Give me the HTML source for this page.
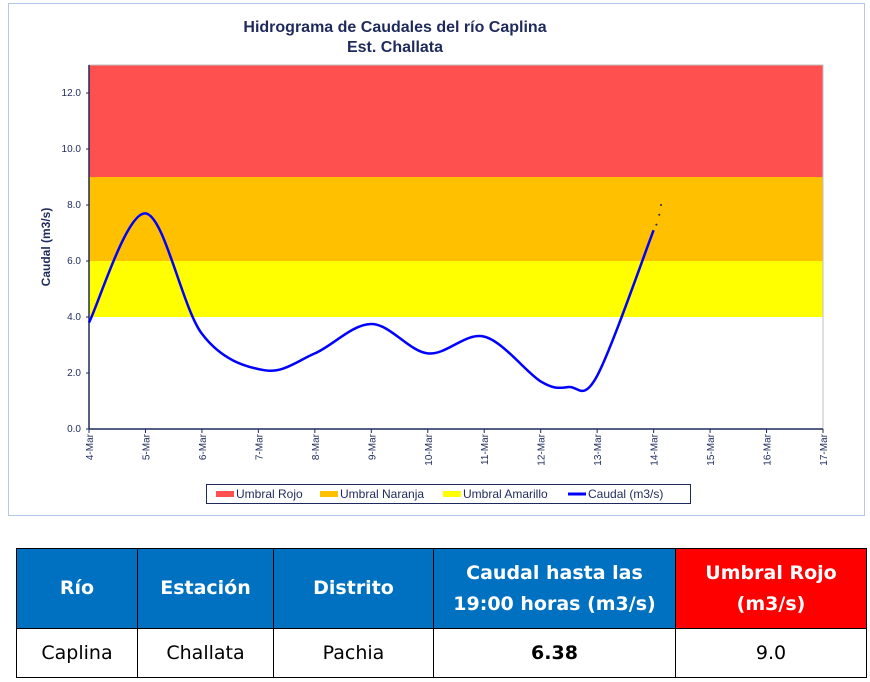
<!DOCTYPE html>
<html><head><meta charset="utf-8"><style>
body{margin:0;background:#fff;width:870px;height:682px;overflow:hidden;font-family:"Liberation Sans",sans-serif}
#chart{position:absolute;left:0;top:0}
table{position:absolute;left:16px;top:548px;border-collapse:collapse;font-family:"DejaVu Sans","Liberation Sans",sans-serif}
td{border:1.5px solid #000;text-align:center;font-size:19px;padding:0}
.h td{background:#0070C0;color:#fff;font-weight:bold;height:79px;line-height:31px}
.h td.red{background:#FF0000}
.d td{height:48px;color:#000}
</style></head><body>
<svg id="chart" width="870" height="530">
<rect x="8.5" y="3.5" width="856" height="512" fill="#fff" stroke="#B4C7E7"/>
<text x="395" y="32" text-anchor="middle" font-size="16" font-weight="bold" fill="#1F2A5C">Hidrograma de Caudales del río Caplina</text>
<text x="395" y="52" text-anchor="middle" font-size="16" font-weight="bold" fill="#1F2A5C">Est. Challata</text>
<g id="bands"></g><g id="yaxis"></g><g id="xaxis"></g><g id="series"></g>
<text transform="translate(50,247) rotate(-90)" text-anchor="middle" font-size="12" font-weight="bold" fill="#1F2A5C">Caudal (m3/s)</text>
<g>
<rect x="206.5" y="484.5" width="484" height="19" fill="#fff" stroke="#1F2A5C"/>
<rect x="216" y="491" width="18" height="6" fill="#FF5050"/><text x="236" y="498" font-size="12" fill="#1F2A5C">Umbral Rojo</text>
<rect x="320" y="491" width="18" height="6" fill="#FFC000"/><text x="340" y="498" font-size="12" fill="#1F2A5C">Umbral Naranja</text>
<rect x="443" y="491" width="18" height="6" fill="#FFFF00"/><text x="463" y="498" font-size="12" fill="#1F2A5C">Umbral Amarillo</text>
<line x1="568" y1="494" x2="586" y2="494" stroke="#0000FF" stroke-width="3"/><text x="588" y="498" font-size="12" fill="#1F2A5C">Caudal (m3/s)</text>
</g>
</svg>
<table>
<tr class="h"><td style="width:120px">Río</td><td style="width:135px">Estación</td><td style="width:159px">Distrito</td><td style="width:241px">Caudal hasta las<br>19:00 horas (m3/s)</td><td class="red" style="width:190px">Umbral Rojo<br>(m3/s)</td></tr>
<tr class="d"><td>Caplina</td><td>Challata</td><td>Pachia</td><td style="font-weight:bold">6.38</td><td>9.0</td></tr>
</table>
<script>
const dayLabels=["4-Mar","5-Mar","6-Mar","7-Mar","8-Mar","9-Mar","10-Mar","11-Mar","12-Mar","13-Mar","14-Mar","15-Mar","16-Mar","17-Mar"];
const yTicks=[0,2,4,6,8,10,12];
const bandLow=[9,6,4];
const bandHigh=[13,9,6];
const bandColors=["#FF5050","#FFC000","#FFFF00"];
const flowDays=[0,1,2,3.1,4,5,6,7,8,8.5,9,10];
const flowValues=[3.8,7.7,3.4,2.1,2.7,3.75,2.7,3.3,1.7,1.5,1.9,7.1];
const dotDays=[10.05,10.1,10.13];
const dotValues=[7.3,7.65,8.0];
const NS="http://www.w3.org/2000/svg";
const X0=89,X1=823,Y0=429,Y13=65;
const sx=d=>X0+d*(X1-X0)/13;
const sy=v=>Y0-v*(Y0-Y13)/13;
function mk(tag,attrs,parent){const e=document.createElementNS(NS,tag);for(const k in attrs)e.setAttribute(k,attrs[k]);parent.appendChild(e);return e;}
const bands=document.getElementById('bands');
bandLow.forEach((lo,i)=>{const r=mk('rect',{x:X0,y:sy(bandHigh[i]),width:X1-X0,height:sy(lo)-sy(bandHigh[i]),fill:bandColors[i]},bands);

});
mk('rect',{x:X0,y:sy(13),width:X1-X0,height:Y0-sy(13),fill:'none',stroke:'#BFBFBF'},bands);
const ya=document.getElementById('yaxis');
mk('line',{x1:X0,y1:Y13,x2:X0,y2:Y0,stroke:'#1F2A5C','stroke-width':1.5},ya);
yTicks.forEach(v=>{mk('line',{x1:X0-3,y1:sy(v),x2:X0,y2:sy(v),stroke:'#1F2A5C'},ya);
const t=mk('text',{x:X0-8,y:sy(v)+3,'text-anchor':'end','font-size':10,fill:'#1F2A5C'},ya);t.textContent=v.toFixed(1);

});
const xa=document.getElementById('xaxis');
mk('line',{x1:X0,y1:Y0,x2:X1,y2:Y0,stroke:'#1F2A5C','stroke-width':1.5},xa);
dayLabels.forEach((l,i)=>{const x=sx(i);mk('line',{x1:x,y1:Y0,x2:x,y2:Y0+4,stroke:'#1F2A5C'},xa);
const t=mk('text',{transform:`translate(${x+4},${Y0+5}) rotate(-90)`,'text-anchor':'end','font-size':10,fill:'#1F2A5C'},xa);t.textContent=l;

});
const pts=flowDays.map((d,i)=>[sx(d),sy(flowValues[i])]);
let p=`M${pts[0][0]},${pts[0][1]}`;
for(let i=0;i<pts.length-1;i++){const a=pts[i-1]||pts[i],b=pts[i],c=pts[i+1],e=pts[i+2]||c;
p+=` C${b[0]+(c[0]-a[0])/6},${b[1]+(c[1]-a[1])/6} ${c[0]-(e[0]-b[0])/6},${c[1]-(e[1]-b[1])/6} ${c[0]},${c[1]}`;}
const ser=document.getElementById('series');
const line=mk('path',{d:p,fill:'none',stroke:'#0000FF','stroke-width':2.5},ser);


dotDays.forEach((d,i)=>{const c=mk('circle',{cx:sx(d),cy:sy(dotValues[i]),r:1,fill:'#1F2A5C'},ser);

});
</script>
</body></html>
